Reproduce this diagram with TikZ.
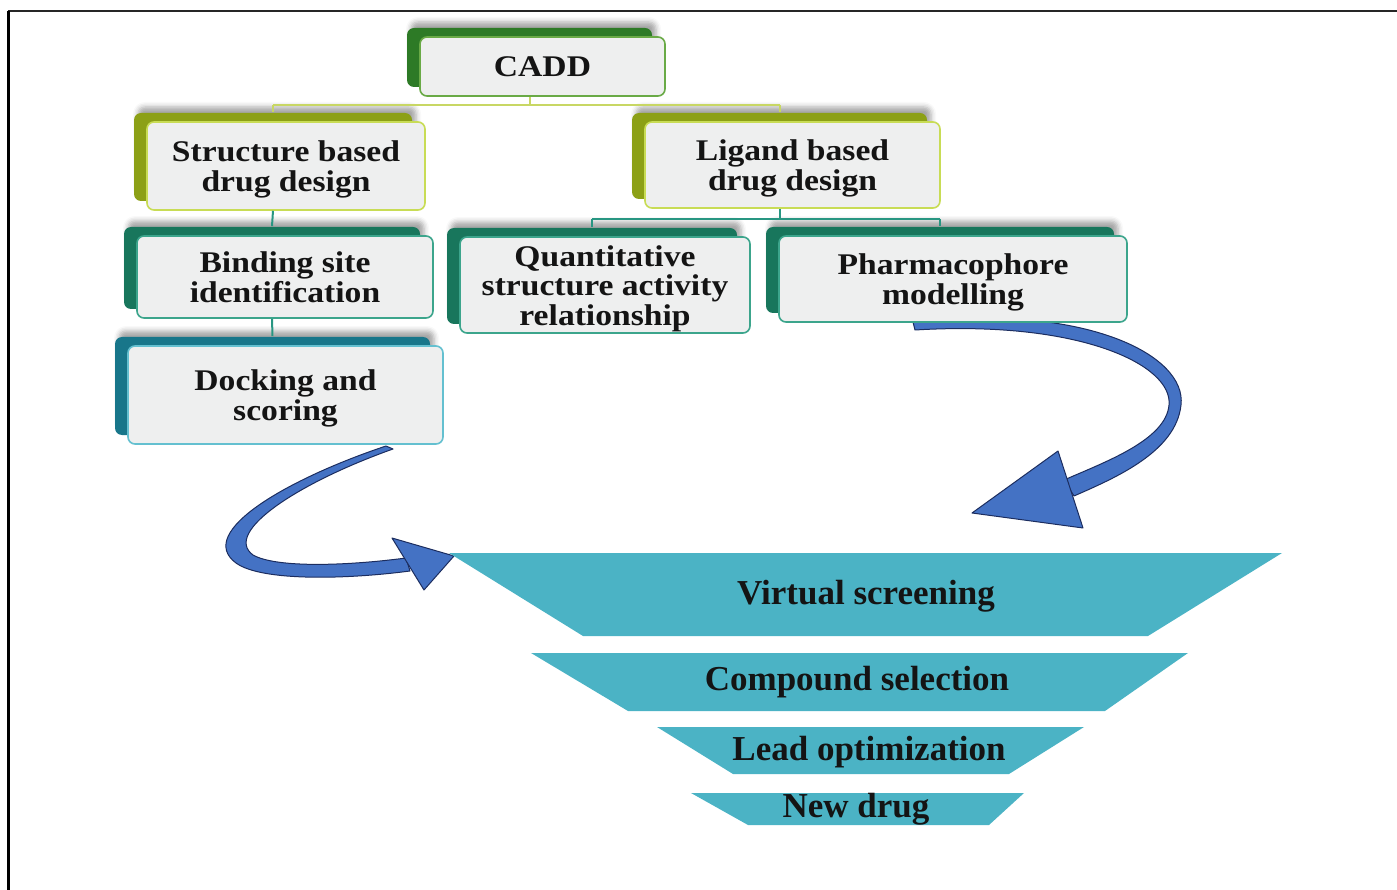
\documentclass[tikz,border=0pt]{standalone}
\usepackage{fontspec}
\setmainfont{Liberation Serif}
\newfontfamily\boxfont[FakeStretch=1.12]{Liberation Serif}
\newcommand\toppad{\rule{0pt}{28pt}}
\usetikzlibrary{shadows,shadows.blur}
\definecolor{txt}{RGB}{20,20,20}
\definecolor{boxfill}{RGB}{238,239,239}
\definecolor{gback}{RGB}{45,122,38}
\definecolor{gborder}{RGB}{105,170,70}
\definecolor{oback}{RGB}{140,160,22}
\definecolor{oborder}{RGB}{200,220,85}
\definecolor{tback}{RGB}{24,118,92}
\definecolor{tborder}{RGB}{60,165,140}
\definecolor{dback}{RGB}{24,118,138}
\definecolor{dborder}{RGB}{100,192,208}
\definecolor{busy}{RGB}{200,215,100}
\definecolor{bust}{RGB}{40,150,130}
\definecolor{funnel}{RGB}{75,179,197}
\definecolor{arrowfill}{RGB}{68,114,196}
\definecolor{arrowline}{RGB}{28,45,95}
\tikzset{
  box/.style={rounded corners=7pt, fill=boxfill, line width=1.6pt, inner sep=0pt,
    align=center, text=txt,
    font={\boxfont\fontsize{30}{29.5}\selectfont\bfseries}},
  backbox/.style 2 args={
    blur shadow={shadow xshift=-9pt, shadow yshift=15pt, shadow opacity=35, shadow blur radius=5pt},
    copy shadow={shadow xshift=-13pt, shadow yshift=9pt, fill=#1, draw=none},
    draw=#2},
  stage/.style={fill=funnel, draw=none},
  stagetext/.style={text=txt, font={\fontsize{35}{35}\selectfont\bfseries}, inner sep=0pt},
  blockarrow/.style={fill=arrowfill, draw=arrowline, line width=1pt, line join=round},
  bus/.style={line width=2pt},
}
\begin{document}
\begin{tikzpicture}[x=1pt,y=-1pt]
\useasboundingbox (0,0) rectangle (1397,890);
% frame
\draw[line width=2.5pt, black!85] (8,11) -- (1397,11);
\draw[line width=3pt, black] (8,11) -- (8,890);

% block arrows (drawn first so boxes cover their tails)
\draw[blockarrow] (386,446) .. controls (290,478) and (194,532) .. (236,563)
  .. controls (262,582) and (350,579) .. (410,571) -- (406,558)
  .. controls (345,566) and (276,568) .. (253,555)
  .. controls (222,532) and (300,482) .. (393,449) -- cycle;
\draw[blockarrow] (392,538) -- (454,556) -- (424,590) -- cycle;

\draw[blockarrow] (913,322) .. controls (1085,303) and (1187,355) .. (1181,405)
  .. controls (1176,452) and (1115,478) .. (1074,496) -- (1064,480)
  .. controls (1105,462) and (1166,440) .. (1169,405)
  .. controls (1173,365) and (1080,320) .. (915,330) -- cycle;
\draw[blockarrow] (1058,451) -- (972,513) -- (1083,528) -- cycle;

% boxes
\node[box, backbox={gback}{gborder}, minimum width=245pt, minimum height=59pt] (cadd) at (542.5,66.5) {CADD};
\node[box, backbox={oback}{oborder}, minimum width=278pt, minimum height=88pt] (sbdd) at (286,166) {\toppad Structure based\\drug design};
\node[box, backbox={oback}{oborder}, minimum width=295pt, minimum height=86pt] (lbdd) at (792.5,165) {\toppad Ligand based\\drug design};
\node[box, backbox={tback}{tborder}, minimum width=296pt, minimum height=82pt] (bind) at (285,277) {Binding site\\identification};
\node[box, backbox={tback}{tborder}, minimum width=290pt, minimum height=96pt] (qsar) at (605,285) {\toppad Quantitative\\structure activity\\relationship};
\node[box, backbox={tback}{tborder}, minimum width=348pt, minimum height=86pt] (pharm) at (953,279) {\toppad Pharmacophore\\modelling};
\node[box, backbox={dback}{dborder}, minimum width=315pt, minimum height=98pt] (dock) at (285.5,395) {\toppad Docking and\\scoring};

% anchor points (top centre of the back boxes, bottom of front boxes shifted)
\coordinate (caddB) at ([xshift=-13pt]cadd.south);
\coordinate (sbddT) at ([xshift=-13pt,yshift=9pt]sbdd.north);
\coordinate (sbddB) at ([xshift=-13pt]sbdd.south);
\coordinate (lbddT) at ([xshift=-13pt,yshift=9pt]lbdd.north);
\coordinate (lbddB) at ([xshift=-13pt]lbdd.south);
\coordinate (bindT) at ([xshift=-13pt,yshift=9pt]bind.north);
\coordinate (bindB) at ([xshift=-13pt]bind.south);
\coordinate (qsarT) at ([xshift=-13pt,yshift=9pt]qsar.north);
\coordinate (pharmT) at ([xshift=-13pt,yshift=9pt]pharm.north);
\coordinate (dockT) at ([xshift=-13pt,yshift=9pt]dock.north);

% connectors
\coordinate (cbus) at ([yshift=-8pt]caddB);
\draw[bus, busy] (caddB) -- (cbus);
\draw[bus, busy] (cbus -| sbddT) -- (cbus -| lbddT);
\draw[bus, busy] (cbus -| sbddT) -- (sbddT);
\draw[bus, busy] (cbus -| lbddT) -- (lbddT);

\draw[bus, bust] (sbddB) -- (bindT);
\draw[bus, bust] (bindB) -- (dockT);

\coordinate (lbus) at ([yshift=-10pt]lbddB);
\draw[bus, bust] (lbddB) -- (lbus);
\draw[bus, bust] (lbus -| qsarT) -- (lbus -| pharmT);
\draw[bus, bust] (lbus -| qsarT) -- (qsarT);
\draw[bus, bust] (lbus -| pharmT) -- (pharmT);

% funnel
\fill[stage] (449,553) -- (1282,553) -- (1148,636) -- (583,636) -- cycle;
\fill[stage] (531,653) -- (1188,653) -- (1105,711) -- (628,711) -- cycle;
\fill[stage] (657,727) -- (1084,727) -- (1009,774) -- (733,774) -- cycle;
\fill[stage] (691,793) -- (1024,793) -- (989,825) -- (748,825) -- cycle;
\node[stagetext] (vs) at (866,596) {Virtual screening};
\node[stagetext] (cs) at (857,682) {Compound selection};
\node[stagetext] (lo) at (869,752) {Lead optimization};
\node[stagetext] (nd) at (856,809) {New drug};
\end{tikzpicture}
\end{document}
